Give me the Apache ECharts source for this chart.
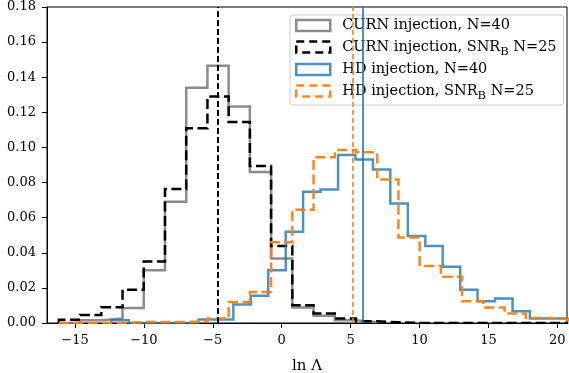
<!DOCTYPE html>
<html><head><meta charset="utf-8">
<script src="https://cdn.jsdelivr.net/npm/echarts@6/dist/echarts.min.js"></script>
<style>html,body{margin:0;padding:0;background:#fff}#c{width:569px;height:373px}</style>
</head><body><div id="c"></div>
<script>
// ---- data ----
const curnEdges = [-16.17, -14.63, -13.09, -11.55, -10.01, -8.47, -6.93, -5.39, -3.85, -2.31, -0.77, 0.77, 2.31, 3.85, 5.39, 6.93, 8.47, 10.01, 11.55, 13.09, 14.63, 16.17, 17.71, 19.25, 20.79];
const curnN40 = [0, 0.0015, 0.0025, 0.0085, 0.030, 0.069, 0.134, 0.1465, 0.1233, 0.086, 0.0367, 0.0088, 0.0042, 0.0015, 0.0004];
const curnSnr25 = [0.0019, 0.0045, 0.009, 0.019, 0.035, 0.0763, 0.111, 0.129, 0.1145, 0.0895, 0.0438, 0.0101, 0.0054, 0.0025, 0.001, 0.0004, 0, 0, 0, 0, 0, 0, 0, 0];
const hdEdges = [-12.37, -11.10, -9.84, -8.57, -7.31, -6.04, -4.78, -3.51, -2.25, -0.98, 0.29, 1.55, 2.82, 4.09, 5.35, 6.62, 7.88, 9.15, 10.42, 11.68, 12.95, 14.21, 15.48, 16.75, 18.01, 19.28, 20.54, 21.81];
const hdN40 = [0.0015, 0, 0, 0, 0, 0.002, 0.002, 0.0105, 0.0155, 0.030, 0.052, 0.0748, 0.0761, 0.0957, 0.0932, 0.0875, 0.068, 0.0495, 0.0438, 0.032, 0.019, 0.0124, 0.0139, 0.0067, 0.0025, 0.0025, 0.0015];
const hdSnr25 = [0, 0, 0, 0.0005, 0.0005, 0.0005, 0.001, 0.0025, 0.012, 0.0177, 0.046, 0.0645, 0.0944, 0.0985, 0.0972, 0.0818, 0.0487, 0.0324, 0.0263, 0.0124, 0.0088, 0.0054, 0.0029, 0.0023];
const medianCurnSnr25 = -4.61;
const medianHdSnr25 = 5.14;
const medianHdN40 = 5.87;
const xTicks = [-15, -10, -5, 0, 5, 10, 15, 20];
const seriesNames = ['CURN injection, N=40', 'CURN injection, SNR_B N=25', 'HD injection, N=40', 'HD injection, SNR_B N=25'];
const xLabel = 'ln Λ';

// ---- styles ----
const FONT = 'DejaVu Serif';
const colGray = 'rgba(128,128,128,0.9)';
const colBlack = '#000000';
const colBlue = 'rgba(31,119,180,0.8)';
const colOrange = 'rgba(255,127,14,0.95)';

function steps(edges, vals) {
  const pts = [[edges[0], 0]];
  for (let i = 0; i < vals.length; i++) {
    pts.push([edges[i], vals[i]]);
    pts.push([edges[i + 1], vals[i]]);
  }
  pts.push([edges[vals.length], 0]);
  return pts;
}

function histSeries(name, edges, vals, color, dashed, median, mType, mWidth, mColor) {
  const s = {
    name: name, type: 'line', data: steps(edges, vals),
    showSymbol: false, symbol: 'none', animation: false, clip: true,
    lineStyle: { color: color, width: 2.5, type: dashed ? [10, 4.5] : 'solid', join: 'miter' },
    itemStyle: { color: color }
  };
  if (median !== null) {
    s.markLine = {
      silent: true, symbol: 'none', animation: false,
      label: { show: false },
      lineStyle: { color: mColor, width: mWidth, type: mType },
      data: [{ xAxis: median }]
    };
  }
  return s;
}

const chart = echarts.init(document.getElementById('c'), null, { renderer: 'canvas' });

function legendFmt(n) {
  if (n.indexOf('SNR_B') >= 0) {
    const parts = n.split('SNR_B');
    return '{f|' + parts[0] + 'SNR}{sub|B}{t|' + parts[1] + '}';
  }
  return '{f|' + n + '}';
}

chart.setOption({
  backgroundColor: '#ffffff',
  animation: false,
  grid: { left: 47, right: 2, top: 7, bottom: 50, outerBoundsMode: 'none', containLabel: false,
    show: true, borderColor: '#000', borderWidth: 1, backgroundColor: 'transparent' },
  xAxis: {
    type: 'value', min: -17.03, max: 20.7,
    axisLine: { show: true, onZero: false, lineStyle: { color: '#000', width: 1 } },
    axisTick: { show: true, inside: false, length: 5, lineStyle: { color: '#000' }, customValues: xTicks },
    axisLabel: { margin: 11, fontFamily: FONT, fontSize: 13, color: '#000', customValues: xTicks,
      formatter: v => String(v).replace('-', '\u2212') },
    splitLine: { show: false },
    name: xLabel, nameLocation: 'middle', nameGap: 36,
    nameTextStyle: { fontFamily: FONT, fontSize: 15, color: '#000' }
  },
  yAxis: {
    type: 'value', min: 0, max: 0.18, interval: 0.02,
    axisLine: { show: true, onZero: false, lineStyle: { color: '#000', width: 1 } },
    axisTick: { show: true, inside: false, length: 5, lineStyle: { color: '#000' } },
    axisLabel: { margin: 11, fontFamily: FONT, fontSize: 13, color: '#000', formatter: v => v.toFixed(2) },
    splitLine: { show: false }
  },
  legend: {
    orient: 'vertical', left: 290, top: 15,
    itemWidth: 34, itemHeight: 11, itemGap: 4,
    padding: [3, 7, 3, 5],
    backgroundColor: 'rgba(255,255,255,0.8)', borderColor: '#cccccc', borderWidth: 1, borderRadius: 3,
    selectedMode: false,
    textStyle: {
      fontFamily: FONT, fontSize: 14.5, color: '#000',
      rich: {
        f: { fontFamily: FONT, fontSize: 14.5, color: '#000', lineHeight: 20, padding: [0, 0, 0, 7] },
        t: { fontFamily: FONT, fontSize: 14.5, color: '#000', lineHeight: 20 },
        sub: { fontFamily: FONT, fontSize: 11.5, color: '#000', lineHeight: 11, padding: [9, 0, 0, 0], verticalAlign: 'top' }
      }
    },
    formatter: legendFmt,
    data: [
      { name: seriesNames[0], icon: 'rect', itemStyle: { color: 'rgba(0,0,0,0)', borderColor: colGray, borderWidth: 2.5 } },
      { name: seriesNames[1], icon: 'rect', itemStyle: { color: 'rgba(0,0,0,0)', borderColor: colBlack, borderWidth: 2.5, borderType: [8, 5] } },
      { name: seriesNames[2], icon: 'rect', itemStyle: { color: 'rgba(0,0,0,0)', borderColor: colBlue, borderWidth: 2.5 } },
      { name: seriesNames[3], icon: 'rect', itemStyle: { color: 'rgba(0,0,0,0)', borderColor: colOrange, borderWidth: 2.5, borderType: [8, 5] } }
    ]
  },
  series: [
    histSeries(seriesNames[0], curnEdges, curnN40, colGray, false, null),
    histSeries(seriesNames[1], curnEdges, curnSnr25, colBlack, true, medianCurnSnr25, [6, 3], 2, '#000'),
    histSeries(seriesNames[2], hdEdges, hdN40, colBlue, false, medianHdN40, 'solid', 1.6, '#1f77b4'),
    histSeries(seriesNames[3], curnEdges, hdSnr25, colOrange, true, medianHdSnr25, [5, 3], 1.6, '#ff7f0e')
  ]
});
</script>
</body></html>
